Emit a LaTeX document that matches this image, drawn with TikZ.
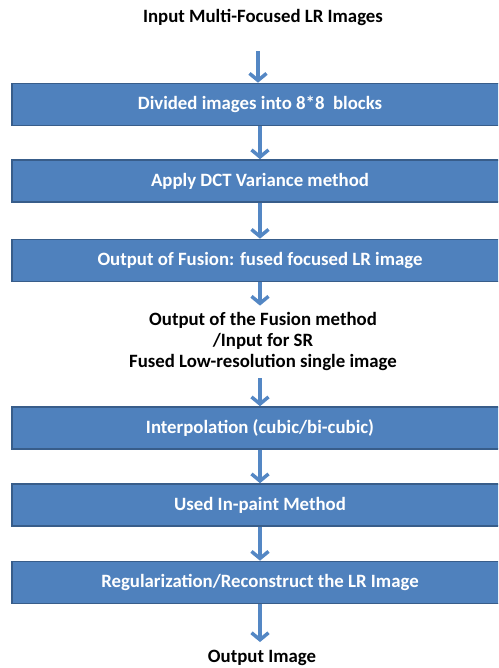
\documentclass[tikz,border=0pt]{standalone}
\usepackage{fontspec}
\setmainfont{Carlito}
\usetikzlibrary{arrows.meta}
\definecolor{boxfill}{RGB}{79,129,189}
\definecolor{boxdraw}{RGB}{56,93,138}
\definecolor{arrcol}{RGB}{84,135,196}
\tikzset{
  x=1pt,y=-1pt,
  stepbox/.style={rectangle,fill=boxfill,draw=boxdraw,line width=1.6pt,minimum width=520pt,minimum height=42pt,inner sep=0pt,text=white,font=\fontsize{18.8}{21}\selectfont\bfseries},
  plain/.style={inner sep=0pt,align=center,font=\fontsize{18.8}{21}\selectfont\bfseries},
  arr/.style={draw=arrcol,line width=3.5pt,-{Straight Barb[length=7pt,width=17pt,line width=3.5pt]}}
}
\begin{document}
\begin{tikzpicture}
\useasboundingbox (0,0) rectangle (498,668);
\clip (0,0) rectangle (498,668);
\node[plain] (t) at (263,17) {Input Multi-Focused LR Images};
\node[stepbox,xshift=12pt] (b1) at (260,104.5) {\hspace*{-24pt}Divided images into 8*8\ \ blocks};
\node[stepbox,xshift=12pt] (b2) at (260,181) {\hspace*{-24pt}Apply DCT Variance method};
\node[stepbox,xshift=12pt] (b3) at (260,260.5) {\hspace*{-24pt}Output of Fusion: fused focused LR image};
\node[plain] (m) at (263,341) {Output of the Fusion method\\/Input for SR\\Fused Low-resolution single image};
\node[stepbox,xshift=12pt] (b4) at (260,428) {\hspace*{-24pt}Interpolation (cubic/bi-cubic)};
\node[stepbox,xshift=12pt] (b5) at (260,505) {\hspace*{-24pt}Used In-paint Method};
\node[stepbox,xshift=12pt] (b6) at (260,582.5) {\hspace*{-24pt}Regularization/Reconstruct the LR Image};
\node[plain] (o) at (262,658) {Output Image};
\draw[arr,shorten <=26pt] ([xshift=-5pt]t.south) -- ([xshift=-14pt]b1.north);
\draw[arr] ([xshift=-12pt]b1.south) -- ([xshift=-12pt]b2.north);
\draw[arr] ([xshift=-12pt]b2.south) -- ([xshift=-12pt]b3.north);
\draw[arr,shorten >=6pt] ([xshift=-12pt]b3.south) -- ([xshift=-3pt]m.north);
\draw[arr,shorten <=8pt] ([xshift=-3pt]m.south) -- ([xshift=-12pt]b4.north);
\draw[arr] ([xshift=-12pt]b4.south) -- ([xshift=-12pt]b5.north);
\draw[arr] ([xshift=-12pt]b5.south) -- ([xshift=-12pt]b6.north);
\draw[arr,shorten >=8pt] ([xshift=-12pt]b6.south) -- ([xshift=-2pt]o.north);
\end{tikzpicture}
\end{document}
